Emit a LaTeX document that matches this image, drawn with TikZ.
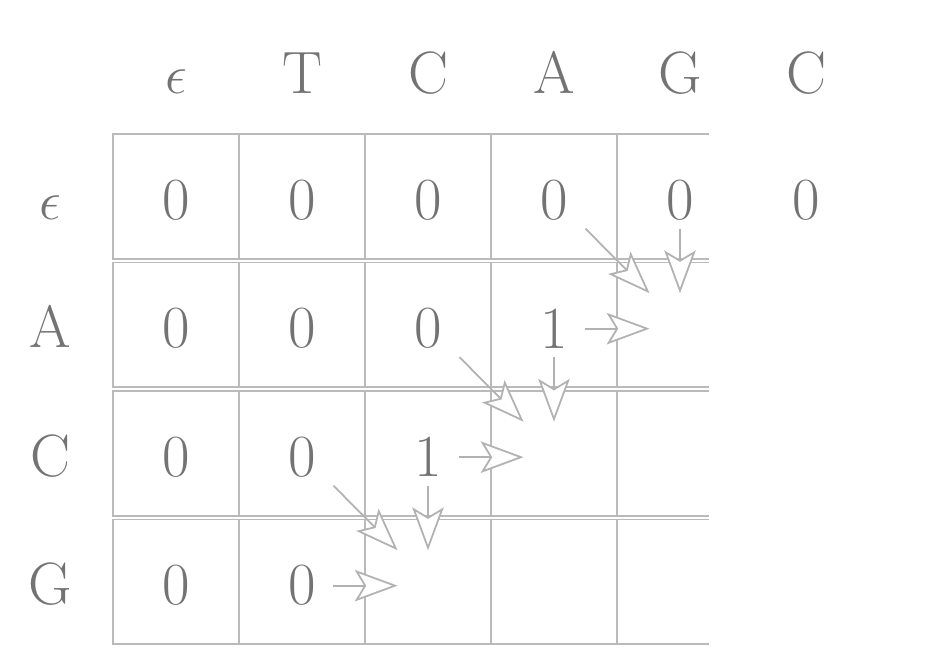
\documentclass[tikz,border=0pt]{standalone}
\usetikzlibrary{arrows.meta}
\begin{document}
\begin{tikzpicture}[
        font=\fontsize{27}{32}\selectfont,
        every node/.style={text=black!55},
        gridline/.style={draw=black!27, line width=0.75pt},
        num/.style={inner sep=0pt, minimum width=0.984cm, minimum height=0.889cm},
        gap/.style={inner sep=0pt, minimum width=0.952cm, minimum height=1.111cm},
        lbl/.style={anchor=base},
        dep/.style={draw=black!30, line width=0.8pt,
            -{Stealth[length=0.68cm, width=0.5cm, inset=0.15cm, fill=white]}}
        ]
        \useasboundingbox (-1.794,-8.492) rectangle (13.302,2.127);

        \foreach \i in {0,...,3} {
            \pgfmathsetmacro\t{-2.04*\i}
            \pgfmathsetmacro\b{\t-1.98}
            \draw[gridline] (9.46,\t) -- (0,\t) -- (0,\b) -- (9.46,\b);
            \foreach \x in {2,4,6,8} \draw[gridline] (\x,\t) -- (\x,\b);
        }

        \node[lbl] (col0) at (1,0.635) {$\epsilon$};
        \node[lbl] (col1) at (3,0.635) {T};
        \node[lbl] (col2) at (5,0.635) {C};
        \node[lbl] (col3) at (7,0.635) {A};
        \node[lbl] (col4) at (9,0.635) {G};
        \node[lbl] (col5) at (11,0.635) {C};

        \node[lbl] (row0) at (-1,-1.35) {$\epsilon$};
        \node[lbl] (row1) at (-1,-3.39) {A};
        \node[lbl] (row2) at (-1,-5.43) {C};
        \node[lbl] (row3) at (-1,-7.47) {G};

        \node[num] (c00) at (1,-1.05) {0};
        \node[num] (c01) at (3,-1.05) {0};
        \node[num] (c02) at (5,-1.05) {0};
        \node[num] (c03) at (7,-1.05) {0};
        \node[num] (c04) at (9,-1.05) {0};
        \node[num] (c05) at (11,-1.05) {0};

        \node[num] (c10) at (1,-3.09) {0};
        \node[num] (c11) at (3,-3.09) {0};
        \node[num] (c12) at (5,-3.09) {0};
        \node[num] (c13) at (7,-3.09) {1};
        \node[gap] (c14) at (9,-3.09) {};

        \node[num] (c20) at (1,-5.13) {0};
        \node[num] (c21) at (3,-5.13) {0};
        \node[num] (c22) at (5,-5.13) {1};
        \node[gap] (c23) at (7,-5.13) {};

        \node[num] (c30) at (1,-7.17) {0};
        \node[num] (c31) at (3,-7.17) {0};
        \node[gap] (c32) at (5,-7.17) {};

        \draw[dep] (c03.south east) -- (c14.north west);
        \draw[dep] (c04) -- (c14);
        \draw[dep] (c13) -- (c14);

        \draw[dep] (c12.south east) -- (c23.north west);
        \draw[dep] (c13) -- (c23);
        \draw[dep] (c22) -- (c23);

        \draw[dep] (c21.south east) -- (c32.north west);
        \draw[dep] (c22) -- (c32);
        \draw[dep] (c31) -- (c32);
\end{tikzpicture}
\end{document}
